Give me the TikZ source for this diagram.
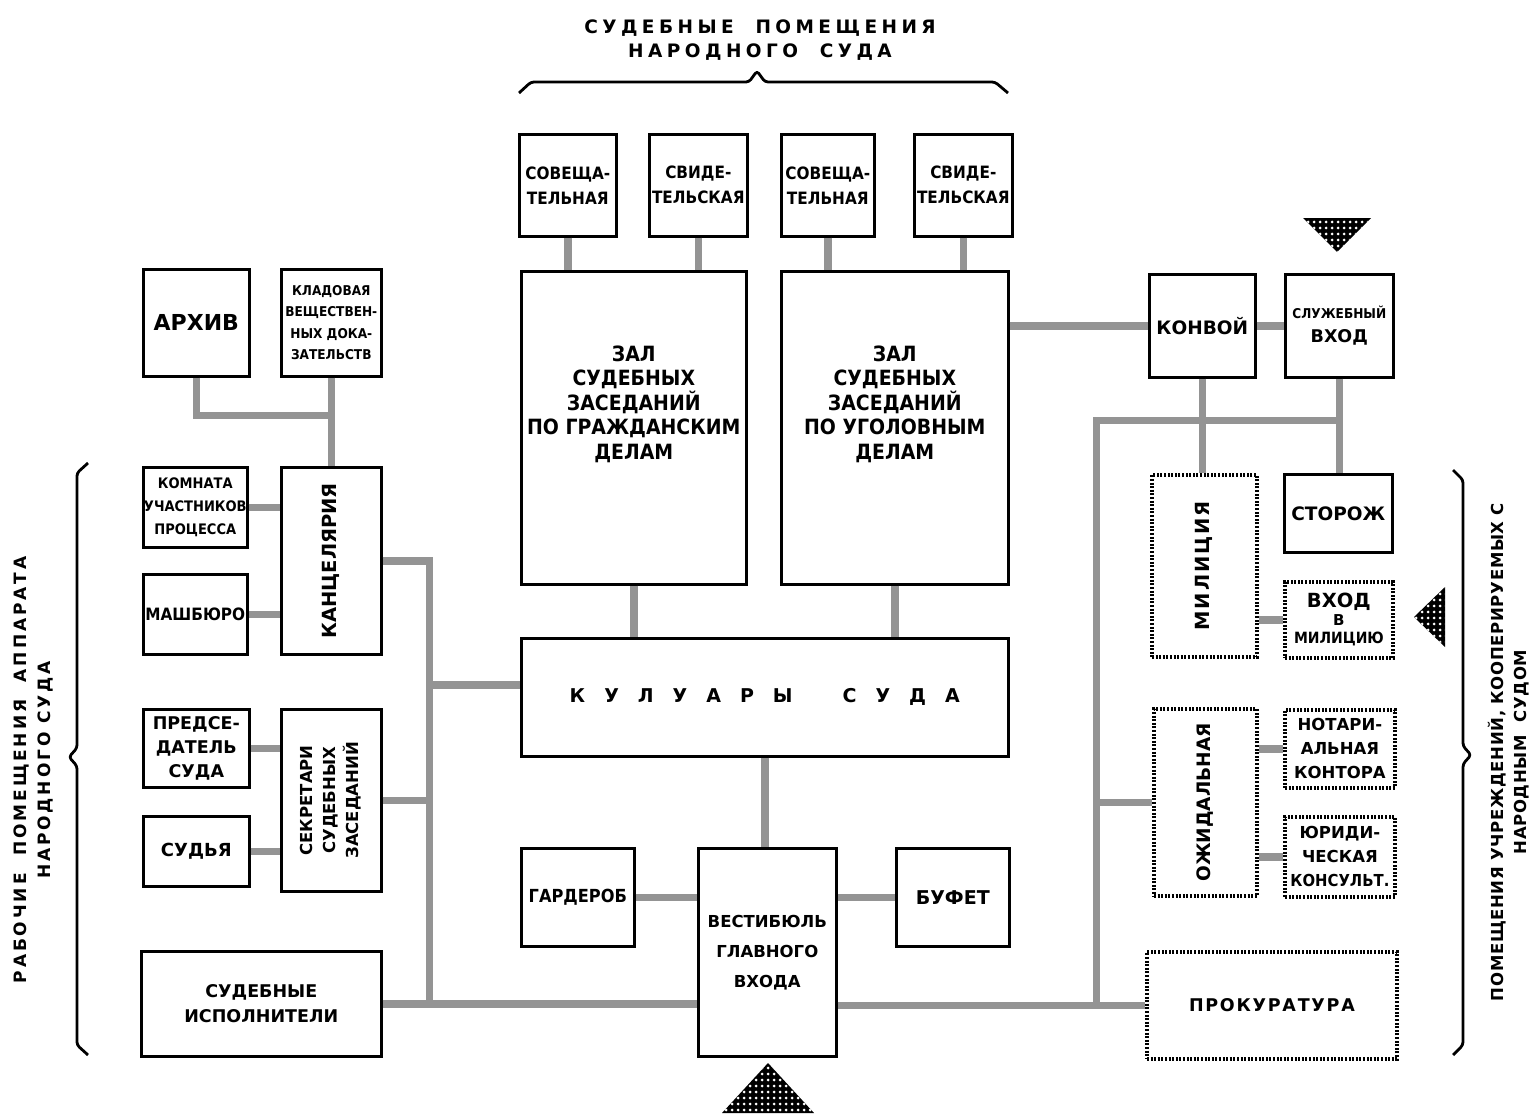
\documentclass[tikz,border=0pt]{standalone}
\usepackage{fontspec}
\setmainfont{DejaVu Sans}
\newfontfamily\cnd{DejaVu Sans Condensed}
\usetikzlibrary{calc,patterns.meta}
\newcommand\fs[2]{\fontsize{#1}{#2}\selectfont}
\newcommand\lsp{\hspace{19pt}}
\newcommand\wsp{\hspace{50pt}}
\tikzset{
  box/.style={draw, line width=2.6pt, inner sep=0pt, anchor=north west, align=center,
              font=\bfseries\fs{18}{24}},
  dbox/.style={box, line width=3.8pt, dash pattern=on 2pt off 1.6pt},
  conn/.style={line width=7.5pt, draw=black!42},
  brace/.style={line width=2.8pt, line join=round, rounded corners=3pt},
  tri/.style={fill=black},
  tridots/.style={pattern={Dots[distance=6pt,radius=1.5pt]}, pattern color=white},
}
\begin{document}
\begin{tikzpicture}[x=1pt,y=-1pt]
\useasboundingbox (0,0) rectangle (1533,1116);
\fill[white] (0,0) rectangle (1533,1116);

% ---------- titles and braces ----------
\node[align=center, font=\bfseries\fs{18.5}{24}\addfontfeatures{LetterSpace=24}] (title) at (760,40)
  {СУДЕБНЫЕ\ \ ПОМЕЩЕНИЯ\\НАРОДНОГО\ \ СУДА};
\draw[brace] (519,93) -- (531,82) -- (749,82) -- (757,71) -- (765,82) -- (995,82) -- (1008,93);

\draw[brace] (88,463) -- (77,473) -- (77,748) -- (69,757) -- (77,766) -- (77,1045) -- (88,1055);
\node[font=\bfseries\fs{17}{24}\addfontfeatures{LetterSpace=17}] (lefttext) at (34,770)
  {\rotatebox{90}{\begin{tabular}{@{}c@{}}РАБОЧИЕ\ \ ПОМЕЩЕНИЯ\ \ АППАРАТА\\НАРОДНОГО СУДА\end{tabular}}};

\draw[brace] (1453,470) -- (1463,480) -- (1463,746) -- (1471,755) -- (1463,764) -- (1463,1045) -- (1453,1055);
\node[font=\bfseries\fs{16.5}{23}\addfontfeatures{LetterSpace=4}] (righttext) at (1510,752)
  {\rotatebox{90}{\begin{tabular}{@{}c@{}}ПОМЕЩЕНИЯ УЧРЕЖДЕНИЙ, КООПЕРИРУЕМЫХ С\\НАРОДНЫМ\ \ СУДОМ\end{tabular}}};

% ---------- central column ----------
\node[box, minimum width=97pt, minimum height=102pt, font=\cnd\bfseries\fs{17}{25}] (sov1) at (518,133) {СОВЕЩА-\\ТЕЛЬНАЯ};
\node[box, minimum width=98pt, minimum height=102pt, font=\cnd\bfseries\fs{17}{25}] (svid1) at (648,133) {СВИДЕ-\\ТЕЛЬСКАЯ};
\node[box, minimum width=93pt, minimum height=102pt, font=\cnd\bfseries\fs{17}{25}] (sov2) at (780,133) {СОВЕЩА-\\ТЕЛЬНАЯ};
\node[box, minimum width=98pt, minimum height=102pt, font=\cnd\bfseries\fs{17}{25}] (svid2) at (913,133) {СВИДЕ-\\ТЕЛЬСКАЯ};

\node[box, minimum width=225pt, minimum height=313pt, font=\cnd\bfseries\fs{21}{24.5}] (zal1) at (520,270)
  {ЗАЛ\\СУДЕБНЫХ\\ЗАСЕДАНИЙ\\ПО ГРАЖДАНСКИМ\\ДЕЛАМ\\[26pt]};
\node[box, minimum width=227pt, minimum height=313pt, font=\cnd\bfseries\fs{21}{24.5}] (zal2) at (780,270)
  {ЗАЛ\\СУДЕБНЫХ\\ЗАСЕДАНИЙ\\ПО УГОЛОВНЫМ\\ДЕЛАМ\\[26pt]};

\node[box, minimum width=487pt, minimum height=118pt, font=\bfseries\fs{19}{24}] (kul) at (520,637)
  {К\lsp У\lsp Л\lsp У\lsp А\lsp Р\lsp Ы\wsp С\lsp У\lsp Д\lsp А};

\node[box, minimum width=113pt, minimum height=98pt, font=\cnd\bfseries\fs{18}{24}] (gard) at (520,847) {ГАРДЕРОБ};
\node[box, minimum width=138pt, minimum height=208pt, font=\bfseries\fs{16.5}{30}] (vest) at (697,847) {ВЕСТИБЮЛЬ\\ГЛАВНОГО\\ВХОДА};
\node[box, minimum width=113pt, minimum height=98pt, font=\bfseries\fs{19}{24}] (bufet) at (895,847) {БУФЕТ};

% ---------- left column ----------
\node[box, minimum width=106pt, minimum height=107pt, font=\bfseries\fs{22}{24}] (arkhiv) at (142,268) {АРХИВ};
\node[box, minimum width=100pt, minimum height=107pt, font=\cnd\bfseries\fs{13.5}{21.5}] (klad) at (280,268)
  {КЛАДОВАЯ\\ВЕЩЕСТВЕН-\\НЫХ ДОКА-\\ЗАТЕЛЬСТВ};
\node[box, minimum width=104pt, minimum height=80pt, font=\cnd\bfseries\fs{14.5}{23}] (komn) at (142,466)
  {КОМНАТА\\УЧАСТНИКОВ\\ПРОЦЕССА};
\node[box, minimum width=104pt, minimum height=80pt, font=\cnd\bfseries\fs{17}{24}] (mash) at (142,573) {МАШБЮРО};
\node[box, minimum width=100pt, minimum height=187pt, font=\bfseries\fs{19.5}{24}] (kanc) at (280,466)
  {\rotatebox{90}{КАНЦЕЛЯРИЯ}};
\node[box, minimum width=106pt, minimum height=78pt, font=\bfseries\fs{17.5}{24}] (pred) at (142,708)
  {ПРЕДСЕ-\\ДАТЕЛЬ\\СУДА};
\node[box, minimum width=106pt, minimum height=70pt, font=\bfseries\fs{18}{24}] (sudya) at (142,815) {СУДЬЯ};
\node[box, minimum width=100pt, minimum height=182pt, font=\bfseries\fs{16.5}{23}] (sekr) at (280,708)
  {\rotatebox{90}{\begin{tabular}{@{}c@{}}СЕКРЕТАРИ\\СУДЕБНЫХ\\ЗАСЕДАНИЙ\end{tabular}}};
\node[box, minimum width=240pt, minimum height=105pt, font=\bfseries\fs{17.5}{25}] (isp) at (140,950)
  {СУДЕБНЫЕ\\ИСПОЛНИТЕЛИ};

% ---------- right column ----------
\node[box, minimum width=106pt, minimum height=103pt, font=\bfseries\fs{18.5}{24}] (konv) at (1148,273) {КОНВОЙ};
\node[box, minimum width=108pt, minimum height=103pt, font=\bfseries\fs{17.5}{24}] (sluzh) at (1284,273)
  {{\cnd\fs{13.5}{24}СЛУЖЕБНЫЙ}\\ВХОД};
\node[dbox, minimum width=105pt, minimum height=182pt, font=\bfseries\fs{19.5}{24}\addfontfeatures{LetterSpace=10}] (milic) at (1150,473)
  {\rotatebox{90}{МИЛИЦИЯ}};
\node[box, minimum width=108pt, minimum height=78pt, font=\bfseries\fs{18.5}{24}] (storozh) at (1283,473) {СТОРОЖ};
\node[dbox, minimum width=108pt, minimum height=76pt, font=\bfseries\fs{19.5}{18}] (vkhod) at (1283,580)
  {ВХОД\\{\fs{15}{18}В}\\{\cnd\fs{15.5}{18}МИЛИЦИЮ}};
\node[dbox, minimum width=103pt, minimum height=187pt, font=\bfseries\fs{18.5}{24}] (ozhid) at (1152,707)
  {\rotatebox{90}{ОЖИДАЛЬНАЯ}};
\node[dbox, minimum width=110pt, minimum height=78pt, font=\bfseries\fs{16.5}{24}] (notar) at (1283,708)
  {НОТАРИ-\\АЛЬНАЯ\\КОНТОРА};
\node[dbox, minimum width=110pt, minimum height=80pt, font=\bfseries\fs{16.5}{24}] (yurid) at (1283,815)
  {ЮРИДИ-\\ЧЕСКАЯ\\{\cnd КОНСУЛЬТ.}};
\node[dbox, minimum width=250pt, minimum height=107pt, font=\bfseries\fs{17.5}{24}\addfontfeatures{LetterSpace=10}] (prok) at (1145,950)
  {ПРОКУРАТУРА};

% ---------- connectors ----------
\begin{scope}[every path/.style={conn}]
  \draw (sov1.south) -- (sov1.south |- zal1.north);
  \draw (svid1.south) -- (svid1.south |- zal1.north);
  \draw (sov2.south) -- (sov2.south |- zal2.north);
  \draw (svid2.south) -- (svid2.south |- zal2.north);
  \draw (zal1.south) -- (zal1.south |- kul.north);
  \draw (zal2.south) -- (zal2.south |- kul.north);
  \draw (kul.south) -- (kul.south |- vest.north);
  \draw (gard.east) -- (gard.east -| vest.west);
  \draw (bufet.west) -- (bufet.west -| vest.east);

  % left
  \coordinate (ja) at ($(arkhiv.south)+(0,38)$);
  \draw (arkhiv.south) -- (ja) -- (ja -| klad.south);
  \draw (klad.south) -- (klad.south |- kanc.north);
  \draw (komn.east) -- (komn.east -| kanc.west);
  \draw (mash.east) -- (mash.east -| kanc.west);
  \draw (pred.east) -- (pred.east -| sekr.west);
  \draw (sudya.east) -- (sudya.east -| sekr.west);
  \coordinate (lbusTop) at ($(kanc.east)+(47,0)$);
  \coordinate (kulL) at ($(kul.north west)!0.4!(kul.south west)$);
  \draw (kanc.east) -- (lbusTop) -- (lbusTop |- isp.east);
  \draw (lbusTop |- kulL) -- (kulL);
  \draw (sekr.east) -- (sekr.east -| lbusTop);
  \draw (isp.east) -- (isp.east -| vest.west);

  % right
  \draw (zal2.east |- konv.west) -- (konv.west);
  \draw (konv.east) -- (sluzh.west);
  \draw (konv.south) -- (konv.south |- milic.north);
  \draw (sluzh.south) -- (sluzh.south |- storozh.north);
  \coordinate (rbusTop) at ($(konv.south)+(-106,42)$);
  \draw (sluzh.south |- rbusTop) -- (rbusTop) -- (rbusTop |- prok.west);
  \draw (vest.east |- prok.west) -- (prok.west);
  \draw (rbusTop |- ozhid.west) -- (ozhid.west);
  \draw (milic.east |- vkhod.west) -- (vkhod.west);
  \draw (ozhid.east |- notar.west) -- (notar.west);
  \draw (ozhid.east |- yurid.west) -- (yurid.west);
\end{scope}

% ---------- entrance triangles ----------
\fill[tri] (722,1113) -- (768,1063) -- (814,1113) -- cycle;
\fill[tridots] (722,1113) -- (768,1063) -- (814,1113) -- cycle;
\fill[tri] (1303,218) -- (1371,218) -- (1337,252) -- cycle;
\fill[tridots] (1303,218) -- (1371,218) -- (1337,252) -- cycle;
\fill[tri] (1445,587) -- (1445,647) -- (1414,617) -- cycle;
\fill[tridots] (1445,587) -- (1445,647) -- (1414,617) -- cycle;
\end{tikzpicture}
\end{document}
